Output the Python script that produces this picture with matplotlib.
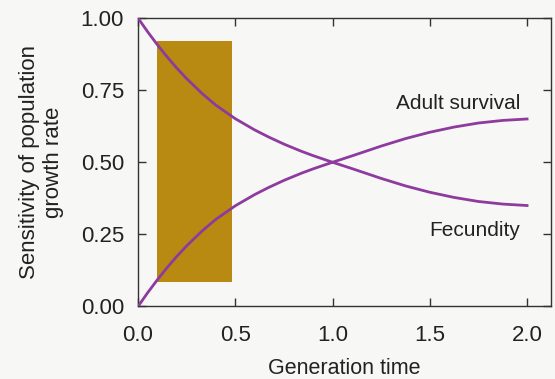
import matplotlib
matplotlib.use("Agg")
import matplotlib.pyplot as plt
from matplotlib.patches import Rectangle

plt.rcParams['font.family'] = ['Liberation Sans', 'DejaVu Sans']

# Data
generation_time = [0.0, 0.05, 0.1, 0.15, 0.2, 0.25, 0.33, 0.4, 0.5, 0.6, 0.67, 0.75,
                   0.84, 0.9, 1.0, 1.1, 1.25, 1.375, 1.5, 1.625, 1.75, 1.875, 2.0]
adult_survival = [0.0, 0.048, 0.093, 0.135, 0.174, 0.21, 0.262, 0.302, 0.349, 0.388, 0.412, 0.437,
                  0.462, 0.477, 0.5, 0.522, 0.556, 0.582, 0.604, 0.622, 0.636, 0.645, 0.65]
fecundity = [1.0, 0.952, 0.907, 0.865, 0.826, 0.79, 0.738, 0.698, 0.651, 0.612, 0.588, 0.563,
             0.538, 0.523, 0.5, 0.478, 0.444, 0.418, 0.396, 0.378, 0.364, 0.355, 0.35]
# shaded range (generation time span, sensitivity span)
box_x = [0.096, 0.481]
box_y = [0.086, 0.919]

xticks = [0.0, 0.5, 1.0, 1.5, 2.0]
xticklabels = ['0.0', '0.5', '1.0', '1.5', '2.0']
yticks = [0.0, 0.25, 0.5, 0.75, 1.0]
yticklabels = ['0.00', '0.25', '0.50', '0.75', '1.00']

bg = '#f7f7f5'
fig = plt.figure(figsize=(5.55, 3.79), dpi=100, facecolor=bg)
ax = fig.add_axes([0.2486, 0.1913, 0.7442, 0.7612], facecolor=bg)

ax.add_patch(Rectangle((box_x[0], box_y[0]), box_x[1] - box_x[0], box_y[1] - box_y[0],
                       facecolor='#b98a12', edgecolor='none', zorder=1))
line_color = '#8e3a9e'
ax.plot(generation_time, adult_survival, color=line_color, lw=2, zorder=3,
        solid_joinstyle='round')
ax.plot(generation_time, fecundity, color=line_color, lw=2, zorder=3,
        solid_joinstyle='round')

ax.text(1.965, 0.705, 'Adult survival', ha='right', va='center', fontsize=15, color='#222222')
ax.text(1.965, 0.264, 'Fecundity', ha='right', va='center', fontsize=15, color='#222222')

ax.set_xlim(0, 2.123)
ax.set_ylim(0, 1)
ax.set_xticks(xticks)
ax.set_xticklabels(xticklabels)
ax.set_yticks(yticks)
ax.set_yticklabels(yticklabels)
ax.tick_params(direction='in', top=True, right=True, length=6, width=1,
               labelsize=16, colors='#333333', labelcolor='#222222')
ax.tick_params(axis='x', pad=13)
ax.tick_params(axis='y', pad=10)
for s in ax.spines.values():
    s.set_color('#333333')
    s.set_linewidth(1)

ax.set_xlabel('Generation time', fontsize=15.5, color='#222222', labelpad=9)
ax.set_ylabel('Sensitivity of population\ngrowth rate', fontsize=16, color='#222222',
              labelpad=12, linespacing=1.2)

fig.savefig('out.png', dpi=100, facecolor=bg)
